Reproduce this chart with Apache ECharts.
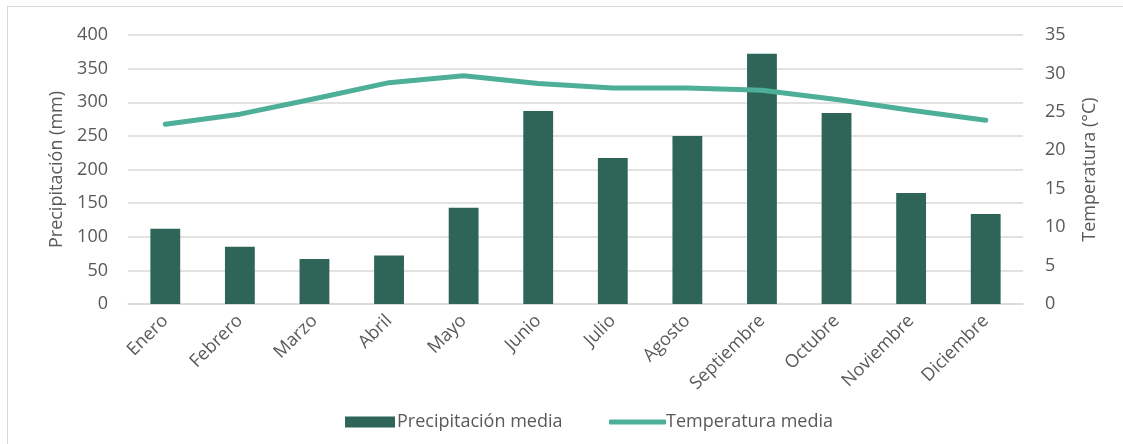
<!DOCTYPE html>
<html>
<head>
<meta charset="utf-8">
<script src="https://cdn.jsdelivr.net/npm/echarts@6/dist/echarts.min.js"></script>
<style>
html,body{margin:0;padding:0;background:#fff;}
#frame{position:absolute;left:7px;top:6px;width:1130px;height:450px;border:1px solid #d9d9d9;box-sizing:border-box;}
#chart{position:absolute;left:0;top:0;width:1123px;height:444px;}
</style>
</head>
<body>
<div id="frame"></div>
<div id="chart"></div>
<script>
const categories = ['Enero','Febrero','Marzo','Abril','Mayo','Junio','Julio','Agosto','Septiembre','Octubre','Noviembre','Diciembre'];
const precipitacion = [112, 85, 67, 72, 143, 287, 217, 250, 372, 284, 165, 134];
const temperatura = [23.4, 24.7, 26.7, 28.8, 29.7, 28.7, 28.1, 28.1, 27.8, 26.6, 25.2, 23.9];
const leftTicks = {min: 0, max: 400, interval: 50};
const rightTicks = {min: 0, max: 35, interval: 5};

const font = 'Open Sans';
const txt = '#595959';
const fs = 18;
const chart = echarts.init(document.getElementById('chart'), null, {renderer: 'canvas'});
chart.setOption({
  animation: false,
  textStyle: {fontFamily: font},
  grid: {left: 128, right: 100, top: 35, bottom: 140, containLabel: false},
  legend: [
    {
      left: 340, top: 408,
      itemWidth: 50, itemHeight: 11,
      textStyle: {fontFamily: font, fontSize: fs, color: txt, padding: [0, 0, 0, -3]},
      data: [{name: 'Precipitación media', icon: 'rect'}]
    },
    {
      left: 604, top: 408,
      itemWidth: 57, itemHeight: 5,
      textStyle: {fontFamily: font, fontSize: fs, color: txt, padding: [0, 0, 0, -5]},
      data: [{name: 'Temperatura media', icon: 'roundRect', itemStyle: {color: '#4daf98', borderWidth: 0}}]
    }
  ],
  xAxis: {
    type: 'category',
    data: categories,
    axisLine: {lineStyle: {color: '#d9d9d9', width: 1.5}},
    axisTick: {show: false},
    axisLabel: {rotate: 45, color: txt, fontSize: fs, fontFamily: font, interval: 0, margin: 14}
  },
  yAxis: [
    {
      type: 'value', min: leftTicks.min, max: leftTicks.max, interval: leftTicks.interval,
      name: 'Precipitación (mm)', nameLocation: 'middle', nameGap: 62, nameRotate: 90,
      nameTextStyle: {color: txt, fontSize: fs, fontFamily: font},
      axisLabel: {color: txt, fontSize: fs, fontFamily: font, margin: 20},
      axisLine: {show: false}, axisTick: {show: false},
      splitLine: {lineStyle: {color: '#d9d9d9', width: 1.5}}
    },
    {
      type: 'value', min: rightTicks.min, max: rightTicks.max, interval: rightTicks.interval,
      name: 'Temperatura (°C)', nameLocation: 'middle', nameGap: 58, nameRotate: 90,
      nameTextStyle: {color: txt, fontSize: fs, fontFamily: font},
      axisLabel: {color: txt, fontSize: fs, fontFamily: font, margin: 22},
      axisLine: {show: false}, axisTick: {show: false},
      splitLine: {show: false}
    }
  ],
  series: [
    {
      name: 'Precipitación media', type: 'bar', yAxisIndex: 0,
      data: precipitacion, barWidth: '40%',
      itemStyle: {color: '#2e6558'}
    },
    {
      name: 'Temperatura media', type: 'line', yAxisIndex: 1,
      data: temperatura, symbol: 'none', smooth: false,
      lineStyle: {color: '#4daf98', width: 5, cap: 'round', join: 'round'},
      itemStyle: {color: '#4daf98'}
    }
  ]
});
</script>
</body>
</html>
